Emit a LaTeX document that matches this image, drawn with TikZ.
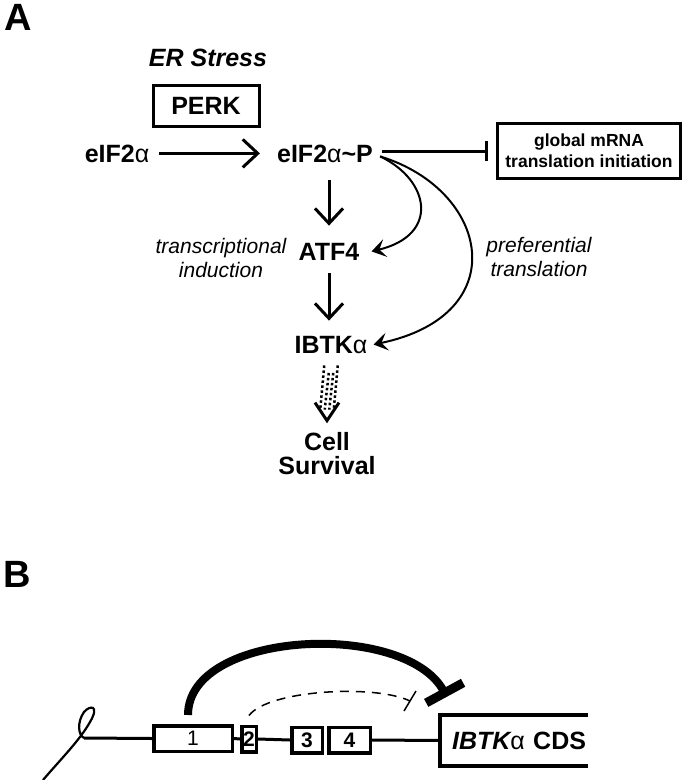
\documentclass[tikz,border=0pt]{standalone}
\usepackage{fontspec}
\setmainfont{Liberation Sans}
\usetikzlibrary{arrows.meta,calc}
\tikzstyle{txt}=[inner sep=2pt, font=\fontsize{25}{28}\selectfont\bfseries]
\tikzstyle{itxt}=[inner sep=2pt, align=center, font=\fontsize{21}{24}\selectfont\itshape]
\tikzstyle{panel}=[anchor=north west, inner sep=0pt, font=\fontsize{38}{40}\selectfont\bfseries]
\tikzstyle{openarrow}=[line width=3pt, -{Straight Barb[length=15pt,width=28pt]}]
\tikzstyle{curvearrow}=[line width=2pt, -{Stealth[length=14pt,width=18pt,inset=6pt]}]
\tikzstyle{inhibit}=[line width=3pt, -{Bar[width=20pt]}]
\tikzstyle{exon}=[draw, line width=3.5pt, inner sep=0pt, minimum height=25.5pt, font=\fontsize{21}{22}\selectfont\bfseries]
\newcommand{\al}{{\upshape\mdseries α}}

\begin{document}
\begin{tikzpicture}[x=1pt,y=-1pt]
\useasboundingbox (0,0) rectangle (683,780);
% panel A
\node[panel] (panelA) at (4,4) {A};
\node[txt, anchor=base] (erstress) at (208,66) {\itshape ER Stress};
\node[txt, draw, line width=3pt, minimum width=106pt, minimum height=41pt] (perk) at (206,106) {PERK};
\node[txt, anchor=base] (eif) at (117,162) {eIF2\al};
\node[txt, anchor=base] (eifp) at (325,162) {eIF2\al\textasciitilde P};
\node[draw, line width=3.5pt, minimum width=183pt, minimum height=55pt, align=center,
      font=\fontsize{17.5}{21}\selectfont\bfseries] (glob) at (589,151) {global mRNA\\translation initiation};
\node[txt, anchor=base] (atf) at (329,260) {ATF4};
\node[txt, anchor=base] (ibtk) at (331,353) {IBTK\al};
\node[txt, align=center, font=\fontsize{25}{24}\selectfont\bfseries] (cell) at (327,454) {Cell\\Survival};
\node[itxt] (trans) at (221,258) {transcriptional\\induction};
\node[itxt] (pref) at (539,257) {preferential\\translation};

\draw[openarrow, shorten <=8pt, shorten >=15pt] (eif.east) -- (eifp.west);
\draw[inhibit, shorten <=7pt, shorten >=8pt] (eifp.east |- glob.west) -- (glob.west);
\draw[openarrow, shorten <=16pt, shorten >=15pt] (atf.north |- eifp.south) -- (atf.north);
\draw[openarrow, shorten <=11pt, shorten >=13pt] (atf.south) -- (atf.south |- ibtk.north);
\draw[curvearrow] ([shift={(5pt,-3pt)}]eifp.east) .. controls (430,180) and (440,235) .. ([xshift=10pt]atf.east);
\draw[curvearrow] ([shift={(5pt,-3pt)}]eifp.east) .. controls (490,190) and (515,315) .. ([xshift=4pt]ibtk.east);

% dotted arrow to survival
\coordinate (dtip) at ([yshift=10pt]cell.north);
\foreach \dx/\dy in {-6.75/10, -2.25/17.5, 2.25/17.5, 6.75/10}
  \draw[line width=2.5pt, dash pattern=on 2.5pt off 2.5pt] ([shift={(\dx pt,-\dy pt)}]ibtk.south) -- ([shift={(\dx pt,11pt)}]dtip);
\draw[line width=3pt] ([shift={(-12pt,18pt)}]dtip) -- (dtip) -- ([shift={(12pt,18pt)}]dtip);

% panel B
\node[panel] (panelB) at (3,561) {B};
\node[exon, minimum width=78.5pt, font=\fontsize{21}{22}\selectfont] (ex1) at (193,738.5) {1};
\node[exon, minimum width=14.5pt] (ex2) at (249,739) {2};
\node[exon, minimum width=30.5pt] (ex3) at (307,740) {3};
\node[exon, minimum width=41.5pt] (ex4) at (349.5,740) {4};
\node[inner sep=0pt, minimum width=148pt, minimum height=51pt, text width=144pt, align=right,
      font=\fontsize{25}{28}\selectfont\bfseries] (cds) at (514,740.5) {\itshape IBTK\al\upshape{} CDS};
\draw[line width=4pt] (cds.north east) -- (cds.north west) -- (cds.south west) -- (cds.south east);

\coordinate (capend) at (84,738);
\draw[line width=2.2pt] (43,780) .. controls (60,760) and (80,740) .. (90,722)
  .. controls (100,705) and (90,705) .. (84,712) .. controls (77,722) and (78,735) .. (capend);
\draw[line width=3pt] (capend) -- (ex1.west);
\draw[line width=3pt] (ex1.east) -- (ex2.west);
\draw[line width=3pt] (ex2.east) -- (ex3.west);
\draw[line width=3pt] (ex4.east) -- (cds.west);

\draw[line width=8pt, -{Bar[width=42pt,line width=9pt]}] ([shift={(-5pt,9pt)}]ex1.north)
  .. controls (188,630) and (405,620) .. ([shift={(7pt,18pt)}]cds.north west);
\coordinate (dend) at (410,701);
\draw[line width=1.5pt, dash pattern=on 9pt off 7pt] ([yshift=9pt]ex2.north) .. controls (268,690) and (375,684) .. (dend);
\draw[line width=1.5pt] ([shift={(-6pt,-10pt)}]dend) -- ([shift={(6pt,10pt)}]dend);
\end{tikzpicture}
\end{document}
